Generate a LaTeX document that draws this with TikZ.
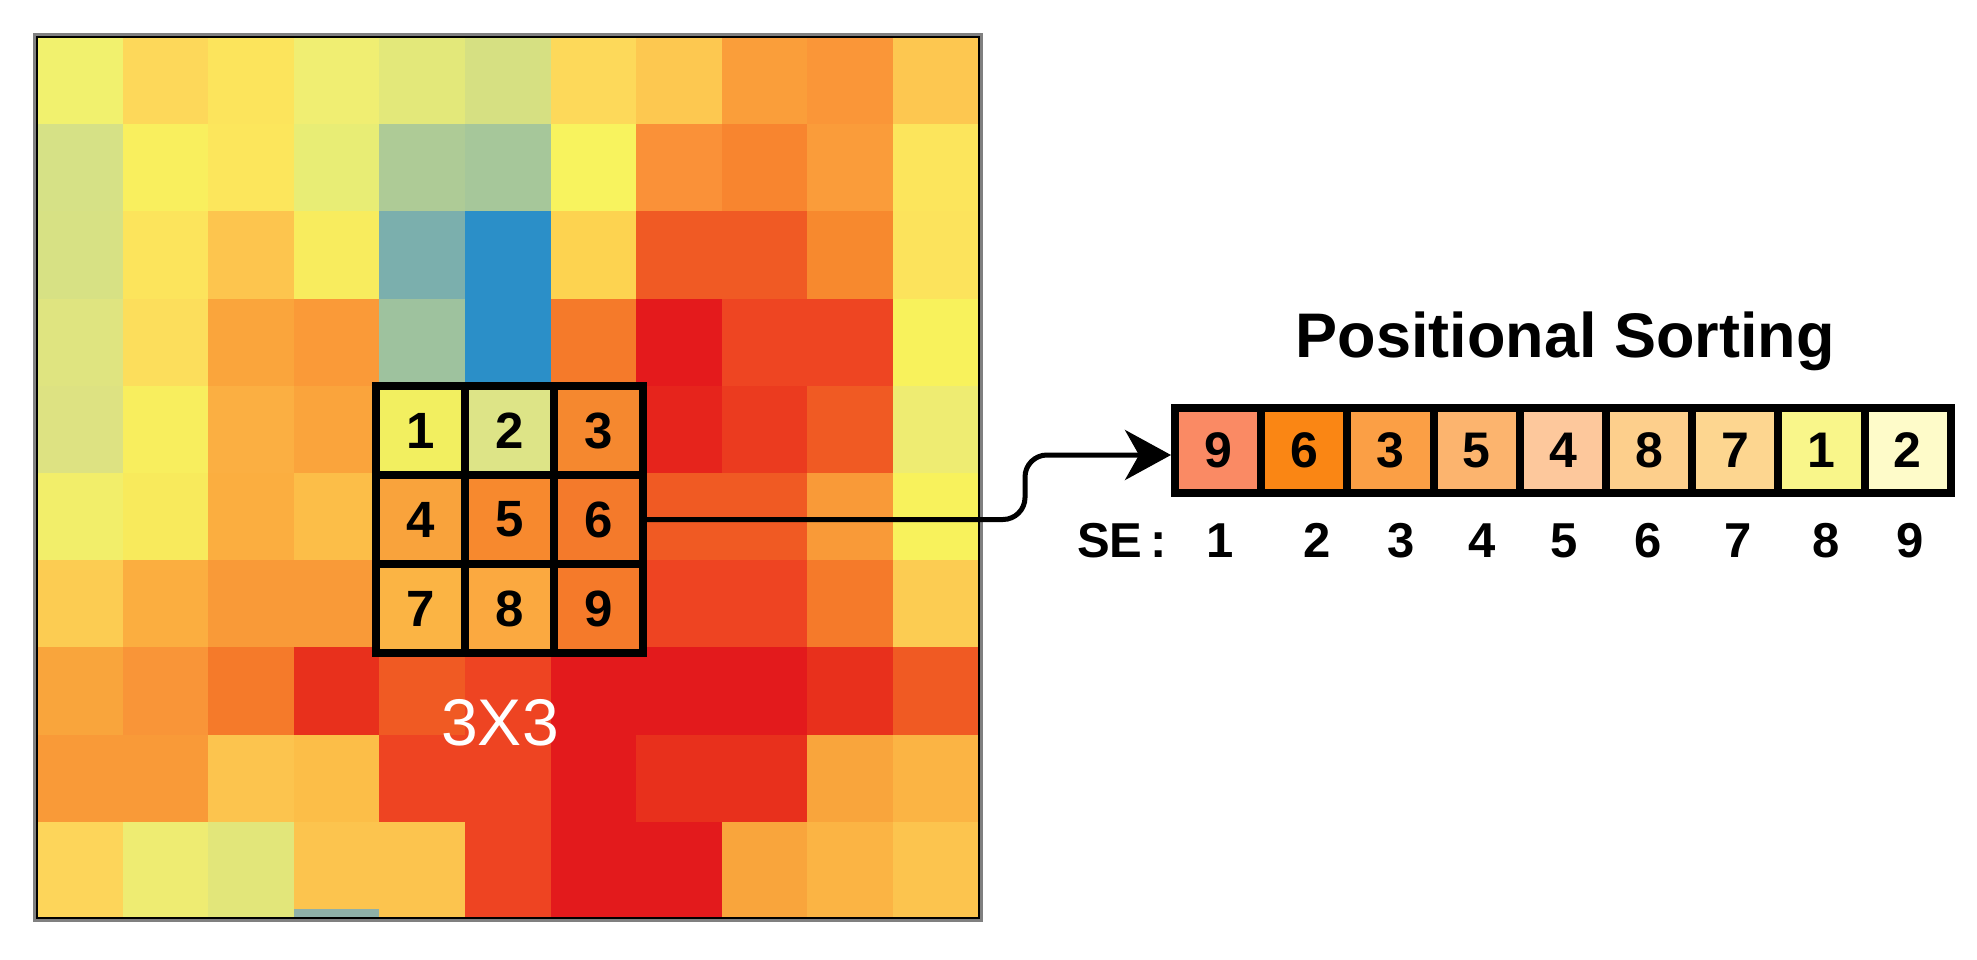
\documentclass[tikz,border=0pt]{standalone}
\usepackage{fontspec}
\setmainfont{Liberation Sans}
\usetikzlibrary{arrows.meta,calc}
\definecolor{bx1}{HTML}{F2EF60}
\definecolor{bx2}{HTML}{DDE487}
\definecolor{bx3}{HTML}{F5882F}
\definecolor{bx4}{HTML}{F9A33C}
\definecolor{bx5}{HTML}{F7892E}
\definecolor{bx6}{HTML}{F47A2B}
\definecolor{bx7}{HTML}{FBB444}
\definecolor{bx8}{HTML}{FBA940}
\definecolor{bx9}{HTML}{F57A2A}
\definecolor{st9}{HTML}{FA8A64}
\definecolor{st6}{HTML}{FA8614}
\definecolor{st3}{HTML}{FB9F45}
\definecolor{st5}{HTML}{FCB46E}
\definecolor{st4}{HTML}{FDC89C}
\definecolor{st8}{HTML}{FDCF8C}
\definecolor{st7}{HTML}{FDD690}
\definecolor{st1}{HTML}{F9F68A}
\definecolor{st2}{HTML}{FEFBC9}
\begin{document}
\begin{tikzpicture}[x=1pt,y=-1pt,
  wincell/.style={draw=black,line width=8pt,minimum width=89pt,minimum height=89pt,
    inner sep=0pt,outer sep=0pt,font=\fontsize{51}{56}\selectfont\bfseries},
  stripcell/.style={draw=black,line width=8pt,minimum width=86.2pt,minimum height=85pt,
    inner sep=0pt,outer sep=0pt,font=\fontsize{50}{55}\selectfont\bfseries},
  selabel/.style={anchor=base,inner sep=0pt,font=\fontsize{49}{55}\selectfont\bfseries},
  conn/.style={line width=5pt,-{Stealth[length=46pt,width=50pt,inset=14pt]}}
]
\useasboundingbox (0,0) rectangle (1977,960);
\fill[white] (0,0) rectangle (1977,960);

% heatmap
\begin{scope}
\clip (37,37) rectangle (979,918);
\foreach \row [count=\r from 0] in {
 {F1F16E,FDD85A,FCE45C,F0EE72,E3E87A,D6E082,FDD95A,FDC850,FA9E3A,FA9638,FDC750},
 {D6E186,F9EF5E,FCE65C,E8ED75,AECB96,A6C79A,F8F35E,FA9138,F8852F,FA9C3A,FCE55C},
 {D7E184,FCE45C,FDC54E,F8EC5E,7BAFAD,2B8FC8,FDD350,F05A24,F05A24,F7892E,FCE35C},
 {DFE480,FCDE5C,FAA53C,FA9A38,9EC29E,2B8FC8,F57A2A,E41A1C,EE4522,EE4522,F8F25C},
 {DDE282,F8EE5E,FBAF42,FAA43C,F2EE5E,DCE286,F5892E,E6241C,EB3B1F,F05A23,EEEC72},
 {F2EE6A,F8EA5C,FBAE40,FCBE48,F9A53C,F7892E,F57A2A,F05A23,F05A23,F99A38,F8F25C},
 {FCCC52,FBAE40,F99A38,F99A38,FBB444,FBAA40,F57A2A,EE4422,EE4422,F57A2A,FCCC52},
 {F9A53C,F99538,F57A2A,E8301C,F05A23,EE4422,E31A1C,E31A1C,E31A1C,E8301C,F05A23},
 {F99A38,F99A38,FCC44E,FCBE48,EE4422,EE4422,E31A1C,E8301C,E8301C,F9A53C,FBB444},
 {FDD55A,EEEC72,E2E67A,FCC44E,FCC44E,EE4422,E31A1C,E31A1C,F9A53C,FBB444,FCC44E},
 {FDD55A,EEEC72,E2E67A,8FB0A8,FCC44E,EE4422,E31A1C,E31A1C,F9A53C,FBB444,FCC44E}} {
  \foreach \c [count=\k from 0] in \row {
    \definecolor{hm}{HTML}{\c}
    \fill[hm] ({37+85.6*\k},{37+87.2*\r}) rectangle ({37+85.6*(\k+1)+0.6},{37+87.2*(\r+1)+0.6});
  }
}
\end{scope}
\draw[black!50,line width=5pt] (35.5,35.5) rectangle (980.5,919.5);
\draw[black,line width=2pt] (37,37) rectangle (979,918);

% 3x3 window
\node[wincell,fill=bx1] (b1) at (420.5,430.5) {1};
\node[wincell,fill=bx2] (b2) at (509.5,430.5) {2};
\node[wincell,fill=bx3] (b3) at (598.5,430.5) {3};
\node[wincell,fill=bx4] (b4) at (420.5,519.5) {4};
\node[wincell,fill=bx5] (b5) at (509.5,519.5) {5};
\node[wincell,fill=bx6] (b6) at (598.5,519.5) {6};
\node[wincell,fill=bx7] (b7) at (420.5,608.5) {7};
\node[wincell,fill=bx8] (b8) at (509.5,608.5) {8};
\node[wincell,fill=bx9] (b9) at (598.5,608.5) {9};
\node[anchor=base,inner sep=0pt,text=white,font=\fontsize{66}{72}\selectfont] (lbl) at (500,745.5) {3X3};

% sorted strip
\node[anchor=base,inner sep=0pt,font=\fontsize{63}{70}\selectfont\bfseries] (title) at (1565,357) {Positional Sorting};
\node[stripcell,fill=st9] (s1) at (1218.1,450.5) {9};
\node[stripcell,fill=st6] (s2) at (1304.3,450.5) {6};
\node[stripcell,fill=st3] (s3) at (1390.5,450.5) {3};
\node[stripcell,fill=st5] (s4) at (1476.7,450.5) {5};
\node[stripcell,fill=st4] (s5) at (1562.9,450.5) {4};
\node[stripcell,fill=st8] (s6) at (1649.1,450.5) {8};
\node[stripcell,fill=st7] (s7) at (1735.3,450.5) {7};
\node[stripcell,fill=st1] (s8) at (1821.5,450.5) {1};
\node[stripcell,fill=st2] (s9) at (1907.7,450.5) {2};

\node[selabel] (se) at (1122,557) {SE\,:};
\node[selabel] (n1) at (1220,557) {1};
\node[selabel] (n2) at (1317,557) {2};
\node[selabel] (n3) at (1401,557) {3};
\node[selabel] (n4) at (1482,557) {4};
\node[selabel] (n5) at (1564,557) {5};
\node[selabel] (n6) at (1648,557) {6};
\node[selabel] (n7) at (1738,557) {7};
\node[selabel] (n8) at (1826,557) {8};
\node[selabel] (n9) at (1910,557) {9};

% connector
\draw[conn] (b6.east) [rounded corners=22pt] -- (1025,519.5) -- (1025,455) [sharp corners] -- ([xshift=-4pt,yshift=-4.5pt]s1.west);
\end{tikzpicture}
\end{document}
